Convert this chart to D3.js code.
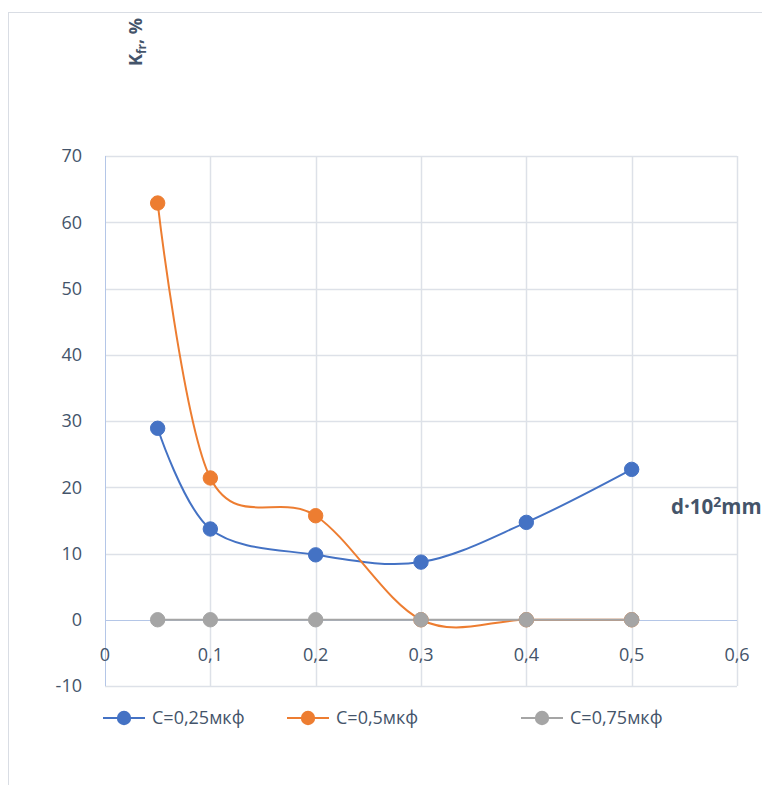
<!DOCTYPE html>
<html><head><meta charset="utf-8">
<script src="https://cdn.jsdelivr.net/npm/d3@7"></script>
<style>body{margin:0;background:#fff}svg{display:block}</style>
</head><body>
<script>
const xValues = [0.05, 0.1, 0.2, 0.3, 0.4, 0.5];
const seriesNames = ["C=0,25мкф", "C=0,5мкф", "C=0,75мкф"];
const seriesColors = ["#4472c4", "#ed7d31", "#a5a5a5"];
const series1 = [28.9, 13.7, 9.8, 8.7, 14.7, 22.7];
const series2 = [62.9, 21.4, 15.7, 0, 0, 0];
const series3 = [0, 0, 0, 0, 0, 0];
const xTicks = [0, 0.1, 0.2, 0.3, 0.4, 0.5, 0.6];
const yTicks = [-10, 0, 10, 20, 30, 40, 50, 60, 70];
const allSeries = [series1, series2, series3];

const W = 762, H = 785;
const svg = d3.select("body").append("svg").attr("width", W).attr("height", H);
const font = "'Open Sans', 'Liberation Sans', sans-serif";
const textColor = "#44546a";

svg.append("rect").attr("x", 8.5).attr("y", 12.5).attr("width", 800).attr("height", 800)
  .attr("fill", "#fff").attr("stroke", "#d9dde4").attr("stroke-width", 1);

const x = d3.scaleLinear().domain([0, 0.6]).range([105, 737]);
const y = d3.scaleLinear().domain([-10, 70]).range([686, 156]);

// gridlines
const g = svg.append("g");
g.selectAll(".vg").data(xTicks.slice(1)).join("line")
  .attr("x1", d => Math.round(x(d)) + 0.5).attr("x2", d => Math.round(x(d)) + 0.5)
  .attr("y1", y(70)).attr("y2", y(-10)).attr("stroke", "#dde1e8").attr("stroke-width", 1.5);
g.selectAll(".hg").data(yTicks.filter(d => d !== 0)).join("line")
  .attr("y1", d => Math.round(y(d)) + 0.5).attr("y2", d => Math.round(y(d)) + 0.5)
  .attr("x1", x(0)).attr("x2", x(0.6)).attr("stroke", "#dde1e8").attr("stroke-width", 1.5);

// axis lines
svg.append("line").attr("x1", x(0) + 0.5).attr("x2", x(0) + 0.5).attr("y1", y(70)).attr("y2", y(-10))
  .attr("stroke", "#b4c6e7").attr("stroke-width", 1);
svg.append("line").attr("x1", x(0)).attr("x2", x(0.6)).attr("y1", Math.round(y(0)) + 0.5).attr("y2", Math.round(y(0)) + 0.5)
  .attr("stroke", "#b4c6e7").attr("stroke-width", 1);

// tick labels
const fmt = d => String(d).replace(".", ",");
svg.selectAll(".yl").data(yTicks).join("text")
  .attr("x", 82).attr("y", d => y(d)).attr("dy", "0.35em").attr("text-anchor", "end")
  .attr("font-family", font).attr("font-size", 18).attr("fill", textColor).text(d => d);
svg.selectAll(".xl").data(xTicks).join("text")
  .attr("x", d => x(d)).attr("y", 661).attr("text-anchor", "middle")
  .attr("font-family", font).attr("font-size", 18).attr("fill", textColor).text(fmt);

// lines
const line = d3.line().x((d, i) => x(xValues[i])).y(d => y(d)).curve(d3.curveCatmullRom.alpha(0));
allSeries.forEach((s, k) => {
  svg.append("path").attr("d", line(s)).attr("fill", "none")
    .attr("stroke", seriesColors[k]).attr("stroke-width", 2);
});
allSeries.forEach((s, k) => {
  svg.append("g").selectAll("circle").data(s).join("circle")
    .attr("cx", (d, i) => x(xValues[i])).attr("cy", d => y(d)).attr("r", 7.2)
    .attr("fill", seriesColors[k]).attr("stroke", seriesColors[k]).attr("stroke-width", 1);
});

// axis titles
const yt = svg.append("text").attr("transform", "translate(142,66) rotate(-90)")
  .attr("font-family", font).attr("font-size", 18).attr("font-weight", "bold").attr("fill", textColor);
yt.append("tspan").text("K");
yt.append("tspan").attr("font-size", 12).attr("dy", 4).text("fr");
yt.append("tspan").attr("dy", -4).text(", %");

const xt = svg.append("text").attr("x", 671).attr("y", 514)
  .attr("font-family", font).attr("font-size", 20.5).attr("font-weight", "bold").attr("fill", textColor);
xt.append("tspan").text("d·10");
xt.append("tspan").attr("font-size", 14).attr("dy", -7).text("2");
xt.append("tspan").attr("dy", 7).text("mm");

// legend
const legX = [103, 287, 521];
seriesNames.forEach((n, k) => {
  const lg = svg.append("g").attr("transform", `translate(${legX[k]},718)`);
  lg.append("line").attr("x1", 0).attr("x2", 42).attr("y1", 0).attr("y2", 0)
    .attr("stroke", seriesColors[k]).attr("stroke-width", 2);
  lg.append("circle").attr("cx", 21).attr("cy", 0).attr("r", 7.2).attr("fill", seriesColors[k]);
  lg.append("text").attr("x", 49).attr("y", 0).attr("dy", "0.35em")
    .attr("font-family", font).attr("font-size", 18).attr("fill", textColor).text(n);
});
</script>
</body></html>
